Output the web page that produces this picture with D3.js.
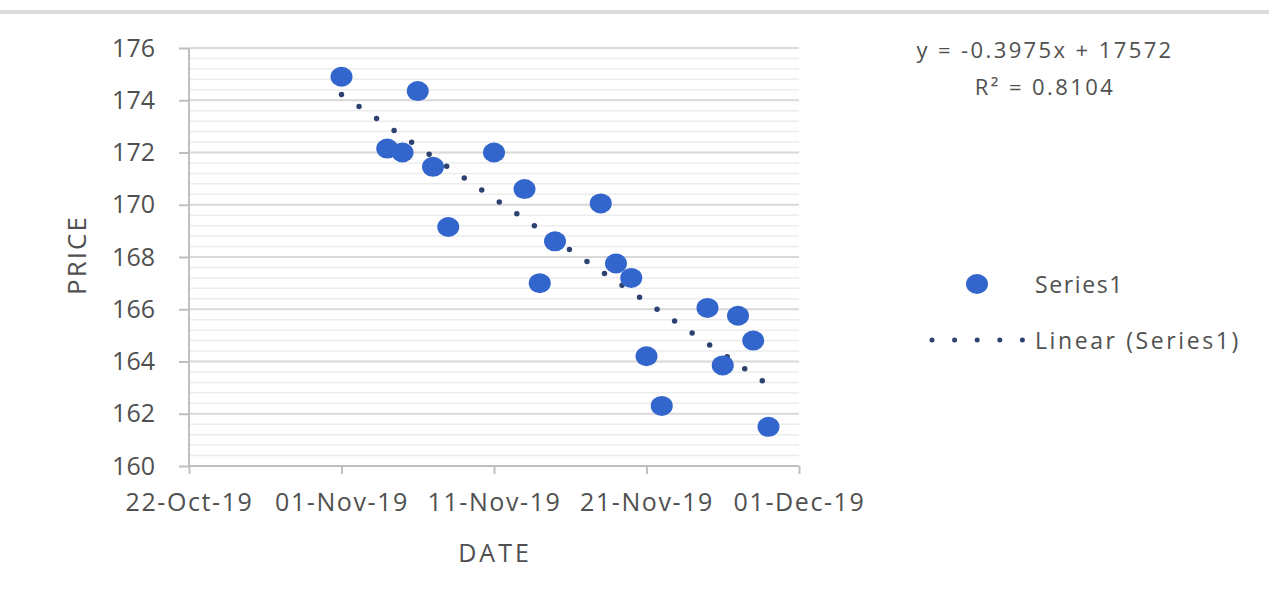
<!DOCTYPE html>
<html>
<head>
<meta charset="utf-8">
<script src="https://cdn.jsdelivr.net/npm/d3@7"></script>
<style>
  body { margin: 0; background: #fff; }
  text { font-family: "Open Sans", sans-serif; fill: #505050; }
</style>
</head>
<body>
<div id="chart"></div>
<script>
// data
var dates = ["2019-11-01", "2019-11-04", "2019-11-05", "2019-11-06", "2019-11-07", "2019-11-08",
             "2019-11-11", "2019-11-13", "2019-11-14", "2019-11-15", "2019-11-18", "2019-11-19",
             "2019-11-20", "2019-11-21", "2019-11-22", "2019-11-25", "2019-11-26", "2019-11-27",
             "2019-11-28", "2019-11-29"];
var prices = [174.9, 172.15, 172.0, 174.35, 171.45, 169.15,
              172.0, 170.6, 167.0, 168.6, 170.05, 167.75,
              167.2, 164.2, 162.3, 166.05, 163.85, 165.75,
              164.8, 161.5];
var xTicks = ["2019-10-22", "2019-11-01", "2019-11-11", "2019-11-21", "2019-12-01"];
var yTicks = [160, 162, 164, 166, 168, 170, 172, 174, 176];
var equation = "y = -0.3975x  + 17572";
var rSquared = "R² = 0.8104";

var parse = d3.utcParse("%Y-%m-%d");
var points = dates.map(function(d, i) { return { date: parse(d), price: prices[i] }; });

var width = 1269, height = 601;
var svg = d3.select("#chart")
    .append("svg")
    .attr("width", width)
    .attr("height", height);

// light rule along the top
svg.append("line")
    .attr("x1", 0).attr("x2", width)
    .attr("y1", 12).attr("y2", 12)
    .attr("stroke", "#dcdcdc")
    .attr("stroke-width", 4);

var x = d3.scaleUtc()
    .domain([parse(xTicks[0]), parse(xTicks[xTicks.length - 1])])
    .range([189, 799]);
var y = d3.scaleLinear()
    .domain([160, 176])
    .range([466, 48]);

// minor gridlines every 0.4
svg.append("g")
    .selectAll("line")
    .data(d3.range(160.4, 176, 0.4))
    .enter()
    .append("line")
        .attr("x1", x.range()[0]).attr("x2", x.range()[1])
        .attr("y1", function(d) { return y(d); })
        .attr("y2", function(d) { return y(d); })
        .attr("stroke", "#ececec")
        .attr("stroke-width", 1.5);

// major gridlines
svg.append("g")
    .selectAll("line")
    .data(yTicks.slice(1))
    .enter()
    .append("line")
        .attr("x1", x.range()[0]).attr("x2", x.range()[1])
        .attr("y1", function(d) { return y(d); })
        .attr("y2", function(d) { return y(d); })
        .attr("stroke", "#d9d9d9")
        .attr("stroke-width", 2);

// Y axis
var yAxis = svg.append("g")
    .attr("transform", "translate(189,0)")
    .call(d3.axisLeft(y).tickValues(yTicks).tickSize(10).tickPadding(24));
yAxis.selectAll("text")
    .style("font-size", "25px")
    .attr("fill", "#505050");

// X axis
var xAxis = svg.append("g")
    .attr("transform", "translate(0,466)")
    .call(d3.axisBottom(x)
        .tickValues(xTicks.map(parse))
        .tickFormat(d3.utcFormat("%d-%b-%y"))
        .tickSize(8)
        .tickPadding(19));
xAxis.selectAll("text")
    .style("font-size", "25px")
    .style("letter-spacing", "1.6px")
    .attr("fill", "#505050");

svg.selectAll("g path.domain")
    .attr("stroke", "#bfbfbf")
    .attr("stroke-width", 2);
svg.selectAll("g g.tick line")
    .attr("stroke", "#bfbfbf")
    .attr("stroke-width", 2);
yAxis.select("path.domain").attr("d", "M0,466V48");
xAxis.select("path.domain").attr("d", "M189,0H799");

// linear trendline (least squares on the points)
var t = points.map(function(d) { return +d.date; });
var mt = d3.mean(t), mp = d3.mean(prices);
var slope = d3.sum(points, function(d) { return (+d.date - mt) * (d.price - mp); }) /
            d3.sum(points, function(d) { return (+d.date - mt) * (+d.date - mt); });
var intercept = mp - slope * mt;
var ends = [d3.min(t), d3.max(t)];

svg.append("line")
    .attr("x1", x(ends[0])).attr("y1", y(intercept + slope * ends[0]))
    .attr("x2", x(ends[1])).attr("y2", y(intercept + slope * ends[1]))
    .attr("stroke", "#2d4270")
    .attr("stroke-width", 5.5)
    .attr("stroke-linecap", "round")
    .attr("stroke-dasharray", "0 21.2");

// points
svg.selectAll("ellipse.pt")
    .data(points)
    .enter()
    .append("ellipse")
        .attr("class", "pt")
        .attr("cx", function(d) { return x(d.date); })
        .attr("cy", function(d) { return y(d.price); })
        .attr("rx", 11)
        .attr("ry", 10)
        .attr("fill", "#3366cc");

// axis titles
svg.append("text")
    .attr("x", 495)
    .attr("y", 562)
    .attr("text-anchor", "middle")
    .style("font-size", "25px")
    .style("letter-spacing", "3px")
    .text("DATE");

svg.append("text")
    .attr("transform", "translate(86,255)rotate(-90)")
    .attr("text-anchor", "middle")
    .style("font-size", "26px")
    .style("letter-spacing", "2px")
    .text("PRICE");

// equation
svg.append("text")
    .attr("x", 1045)
    .attr("y", 58)
    .attr("text-anchor", "middle")
    .style("font-size", "22px")
    .style("letter-spacing", "2.4px")
    .text(equation);
svg.append("text")
    .attr("x", 1045)
    .attr("y", 95)
    .attr("text-anchor", "middle")
    .style("font-size", "22px")
    .style("letter-spacing", "2.4px")
    .text(rSquared);

// legend
svg.append("ellipse")
    .attr("cx", 977).attr("cy", 284)
    .attr("rx", 11).attr("ry", 10)
    .attr("fill", "#3366cc");
svg.append("text")
    .attr("x", 1035).attr("y", 293)
    .style("font-size", "23px")
    .style("letter-spacing", "1.6px")
    .text("Series1");
svg.append("line")
    .attr("x1", 932).attr("x2", 1023)
    .attr("y1", 340).attr("y2", 340)
    .attr("stroke", "#2d4270")
    .attr("stroke-width", 5)
    .attr("stroke-linecap", "round")
    .attr("stroke-dasharray", "0 22.6");
svg.append("text")
    .attr("x", 1035).attr("y", 349)
    .style("font-size", "23px")
    .style("letter-spacing", "2.6px")
    .text("Linear (Series1)");
</script>
</body>
</html>
